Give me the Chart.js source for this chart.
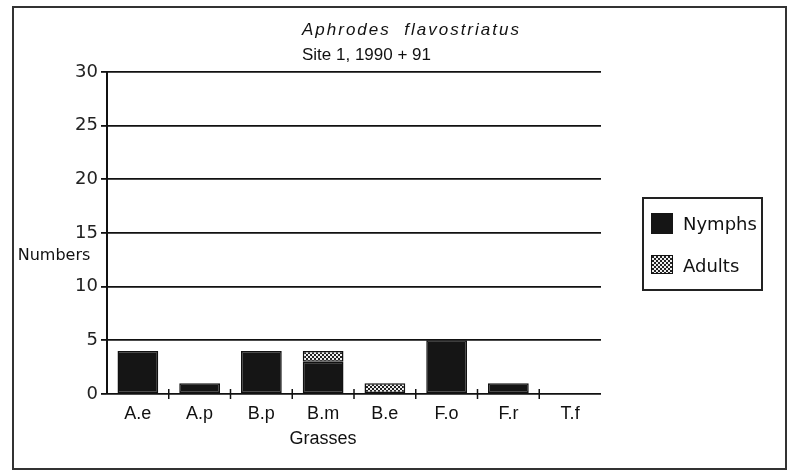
<!DOCTYPE html>
<html>
<head>
<meta charset="utf-8">
<script src="https://cdn.jsdelivr.net/npm/chart.js@4/dist/chart.umd.min.js"></script>
<style>
    body { margin: 0; background: #fff; }
    canvas { display: block; }
</style>
</head>
<body>
<canvas id="grassChart" width="793" height="473"></canvas>
<script>
// data
const grasses = ['A.e', 'A.p', 'B.p', 'B.m', 'B.e', 'F.o', 'F.r', 'T.f'];
const nymphs = [4, 1, 4, 3, 0, 5, 1, 0];
const adults = [0, 0, 0, 1, 1, 0, 0, 0];
const yTicks = [0, 5, 10, 15, 20, 25, 30];

const titleText = 'Aphrodes  flavostriatus';
const subText = 'Site 1, 1990 + 91';

// dotted fill for the adults
function makePattern() {
    var c = document.createElement('canvas');
    c.width = 4;
    c.height = 4;
    var g = c.getContext('2d');
    g.fillStyle = '#eeeeee';
    g.fillRect(0, 0, 4, 4);
    g.fillStyle = '#222222';
    g.fillRect(0, 0, 2, 2);
    g.fillRect(2, 2, 2, 2);
    return g.createPattern(c, 'repeat');
}
const adultFill = makePattern();

const extras = {
    id: 'extras',
    beforeDraw(chart) {
        const ctx = chart.ctx;
        ctx.save();
        ctx.fillStyle = '#fff';
        ctx.fillRect(0, 0, chart.width, chart.height);
        ctx.strokeStyle = '#333';
        ctx.lineWidth = 2;
        ctx.strokeRect(13, 7, 773, 462);
        ctx.restore();
    },
    afterDraw(chart) {
        const ctx = chart.ctx;
        const x = chart.scales.x;
        const area = chart.chartArea;
        ctx.save();
        ctx.fillStyle = '#111';
        ctx.textBaseline = 'alphabetic';

        // titles
        ctx.font = 'italic 17px "Liberation Sans"';
        ctx.letterSpacing = '2px';
        ctx.fillText(titleText, 302, 35);
        ctx.letterSpacing = '0px';
        ctx.font = '17px "Liberation Sans"';
        ctx.fillText(subText, 302, 60);

        // axis titles
        ctx.font = '16px "DejaVu Sans"';
        ctx.textAlign = 'center';
        ctx.textBaseline = 'middle';
        ctx.fillText('Numbers', 54, 256);
        ctx.font = '18px "Liberation Sans"';
        ctx.fillText('Grasses', 323, 439);

        // category ticks crossing the axis
        ctx.strokeStyle = '#111';
        ctx.lineWidth = 1.5;
        for (var i = 1; i < grasses.length; i++) {
            var bx = (x.getPixelForValue(i - 1) + x.getPixelForValue(i)) / 2;
            ctx.beginPath();
            ctx.moveTo(bx, area.bottom - 5);
            ctx.lineTo(bx, area.bottom + 5);
            ctx.stroke();
        }

        // legend
        ctx.lineWidth = 2;
        ctx.strokeStyle = '#222';
        ctx.strokeRect(643, 198, 119, 92);
        ctx.fillStyle = '#151515';
        ctx.fillRect(651, 213, 22, 21);
        ctx.fillStyle = adultFill;
        ctx.fillRect(651, 255, 22, 19);
        ctx.lineWidth = 1;
        ctx.strokeStyle = '#111';
        ctx.strokeRect(651.5, 255.5, 21, 18);
        ctx.fillStyle = '#111';
        ctx.textAlign = 'left';
        ctx.textBaseline = 'alphabetic';
        ctx.font = '18px "DejaVu Sans"';
        ctx.fillText('Nymphs', 683, 230);
        ctx.fillText('Adults', 683, 272);
        ctx.restore();
    }
};

function barBorder(c) {
    return c.raw ? 1.5 : 0;
}

new Chart(document.getElementById('grassChart'), {
    type: 'bar',
    data: {
        labels: grasses,
        datasets: [{
            label: 'Nymphs',
            data: nymphs,
            backgroundColor: '#151515',
            borderColor: '#111',
            borderWidth: barBorder,
            borderSkipped: false,
            barPercentage: 0.66,
            categoryPercentage: 1
        }, {
            label: 'Adults',
            data: adults,
            backgroundColor: adultFill,
            borderColor: '#111',
            borderWidth: barBorder,
            borderSkipped: false,
            barPercentage: 0.66,
            categoryPercentage: 1
        }]
    },
    options: {
        responsive: false,
        animation: false,
        devicePixelRatio: 1,
        layout: {
            padding: { left: 0, top: 72, right: 192, bottom: 0 }
        },
        plugins: {
            legend: { display: false },
            title: { display: false },
            tooltip: { enabled: false }
        },
        scales: {
            x: {
                stacked: true,
                grid: { display: false },
                border: { display: false },
                ticks: {
                    color: '#111',
                    padding: 1,
                    font: { family: 'Liberation Sans', size: 18 }
                },
                afterFit(scale) { scale.height = 79; }
            },
            y: {
                stacked: true,
                min: 0,
                max: 30,
                afterBuildTicks(scale) {
                    scale.ticks = yTicks.map(v => ({ value: v }));
                },
                grid: {
                    color: '#111',
                    lineWidth: 1.8,
                    tickLength: 6
                },
                border: { display: true, color: '#111', width: 2 },
                ticks: {
                    color: '#222',
                    padding: 3,
                    font: { family: 'DejaVu Sans', size: 18 }
                },
                afterFit(scale) { scale.width = 107; }
            }
        }
    },
    plugins: [extras]
});
</script>
</body>
</html>
